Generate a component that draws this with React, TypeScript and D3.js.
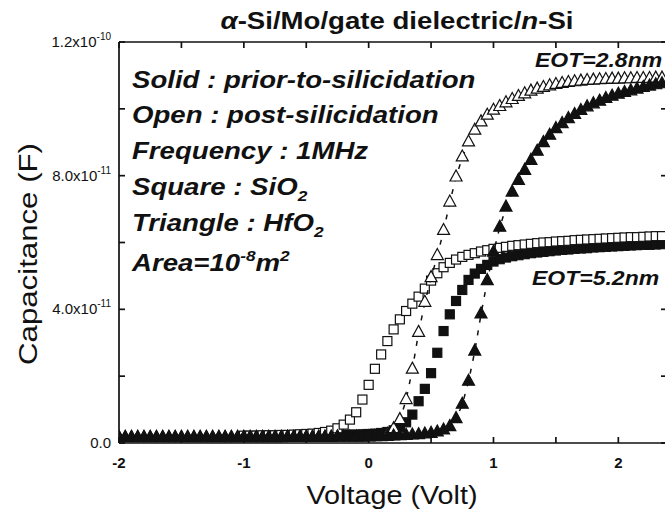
import React from 'react';
import * as d3 from 'd3';

// voltage grid (V)
const lowVolts = [-2, -1.95, -1.9, -1.85, -1.8, -1.75, -1.7, -1.65, -1.6, -1.55,
  -1.5, -1.45, -1.4, -1.35, -1.3, -1.25, -1.2, -1.15, -1.1, -1.05];
const squareVolts = [-1, -0.95, -0.9, -0.85, -0.8, -0.75, -0.7, -0.65, -0.6, -0.55,
  -0.5, -0.45, -0.4, -0.35, -0.3, -0.25, -0.2, -0.15, -0.1, -0.05,
  0, 0.05, 0.1, 0.15, 0.2, 0.25, 0.3, 0.35, 0.4, 0.45,
  0.5, 0.55, 0.6, 0.65, 0.7, 0.75, 0.8, 0.85, 0.9, 0.95,
  1, 1.05, 1.1, 1.15, 1.2, 1.25, 1.3, 1.35, 1.4, 1.45,
  1.5, 1.55, 1.6, 1.65, 1.7, 1.75, 1.8, 1.85, 1.9, 1.95,
  2, 2.05, 2.1, 2.15, 2.2, 2.25, 2.3, 2.35];
const triangleVolts = [...lowVolts, ...squareVolts];

// capacitance, in units of 1e-11 F
const solidSquare = [0.20, 0.20, 0.20, 0.20, 0.21, 0.21, 0.21, 0.21, 0.22, 0.22,
  0.22, 0.22, 0.23, 0.23, 0.23, 0.24, 0.24, 0.25, 0.25, 0.26,
  0.27, 0.28, 0.30, 0.33, 0.38, 0.47, 0.62, 0.85, 1.25, 1.62,
  2.09, 2.70, 3.35, 3.85, 4.25, 4.58, 4.88, 5.07, 5.21, 5.33,
  5.43, 5.50, 5.55, 5.59, 5.62, 5.65, 5.68, 5.70, 5.72, 5.74,
  5.76, 5.78, 5.79, 5.81, 5.82, 5.83, 5.85, 5.86, 5.87, 5.88,
  5.89, 5.90, 5.91, 5.92, 5.93, 5.93, 5.94, 5.95];
const openSquare = [0.22, 0.22, 0.22, 0.23, 0.23, 0.23, 0.24, 0.24, 0.25, 0.26,
  0.27, 0.28, 0.30, 0.33, 0.37, 0.44, 0.55, 0.70, 0.92, 1.30,
  1.74, 2.22, 2.65, 3.05, 3.40, 3.70, 3.95, 4.17, 4.38, 4.62,
  4.86, 5.08, 5.26, 5.39, 5.49, 5.57, 5.63, 5.68, 5.73, 5.77,
  5.81, 5.84, 5.87, 5.90, 5.92, 5.94, 5.96, 5.98, 6.00, 6.01,
  6.03, 6.04, 6.05, 6.07, 6.08, 6.09, 6.10, 6.11, 6.12, 6.13,
  6.14, 6.15, 6.16, 6.16, 6.17, 6.18, 6.19, 6.19];
const solidTriangle = [0.15, 0.15, 0.15, 0.15, 0.15, 0.15, 0.15, 0.15, 0.15, 0.15,
  0.15, 0.15, 0.15, 0.15, 0.15, 0.15, 0.15, 0.15, 0.15, 0.15,
  0.15, 0.15, 0.15, 0.15, 0.15, 0.15, 0.15, 0.16, 0.16, 0.16,
  0.16, 0.16, 0.16, 0.16, 0.16, 0.17, 0.17, 0.17, 0.17, 0.17,
  0.17, 0.18, 0.18, 0.19, 0.20, 0.21, 0.22, 0.23, 0.24, 0.26,
  0.28, 0.32, 0.38, 0.48, 0.72, 1.15, 1.84, 2.74, 3.85, 4.85,
  5.70, 6.45, 7.05, 7.50, 7.85, 8.15, 8.45, 8.72, 8.98, 9.20,
  9.40, 9.55, 9.70, 9.82, 9.94, 10.05, 10.14, 10.22, 10.30, 10.37,
  10.43, 10.48, 10.53, 10.58, 10.63, 10.67, 10.71, 10.74];
const openTriangle = [0.16, 0.16, 0.16, 0.16, 0.16, 0.16, 0.16, 0.16, 0.16, 0.16,
  0.16, 0.16, 0.16, 0.16, 0.16, 0.16, 0.16, 0.16, 0.16, 0.16,
  0.16, 0.16, 0.16, 0.16, 0.16, 0.16, 0.16, 0.16, 0.16, 0.16,
  0.16, 0.16, 0.16, 0.16, 0.16, 0.17, 0.17, 0.17, 0.17, 0.17,
  0.18, 0.19, 0.21, 0.25, 0.42, 0.69, 1.29, 2.20, 3.30, 4.20,
  4.94, 5.60, 6.35, 7.20, 7.95, 8.55, 9.00, 9.35, 9.60, 9.80,
  9.95, 10.06, 10.17, 10.27, 10.36, 10.44, 10.52, 10.58, 10.63, 10.68,
  10.72, 10.75, 10.78, 10.80, 10.82, 10.84, 10.85, 10.86, 10.87, 10.88,
  10.88, 10.89, 10.89, 10.90, 10.90, 10.90, 10.91, 10.91];

const xTicks = [-2, -1.5, -1, -0.5, 0, 0.5, 1, 1.5, 2];
const xLabels = [-2, -1, 0, 1, 2];
const yTicks = [0, 2, 4, 6, 8, 10, 12];
const yLabels = [
  {v: 0, main: '0.0', exp: ''},
  {v: 4, main: '4.0x10', exp: '-11'},
  {v: 8, main: '8.0x10', exp: '-11'},
  {v: 12, main: '1.2x10', exp: '-10'},
];

const W = 665, H = 513;
const FONT = "'Liberation Sans', Arial, Helvetica, sans-serif";
const SX = 1.15;

const x = d3.scaleLinear().domain([-2, 2.39]).range([119, 667]);
const y = d3.scaleLinear().domain([0, 12]).range([443, 42]);

function triPath(cx: number, cy: number) {
  const hw = 6, h = 11;
  return `M${cx},${cy - h * 2 / 3}L${cx + hw},${cy + h / 3}L${cx - hw},${cy + h / 3}Z`;
}

function Squares({vals, fill}: {vals: number[], fill: string}) {
  const s = 9;
  return <g>
    {vals.map((c, i) => <rect key={i} x={x(squareVolts[i]) - s / 2} y={y(c) - s / 2} width={s} height={s}
      fill={fill} stroke="#111" strokeWidth={1.2} />)}
  </g>;
}

function Triangles({vals, fill}: {vals: number[], fill: string}) {
  const line = d3.line<number>().x((c, i) => x(triangleVolts[i])).y(c => y(c));
  return <g>
    <path d={line(vals) || ''} fill="none" stroke="#111" strokeWidth={1.5} strokeDasharray="5 8" />
    {vals.map((c, i) => <path key={i} d={triPath(x(triangleVolts[i]), y(c))}
      fill={fill} stroke="#111" strokeWidth={1.2} />)}
  </g>;
}

function Stretched({tx, ty, size, anchor = 'start', children}: any) {
  return <g transform={`translate(${tx},${ty}) scale(${SX},1)`}>
    <text x={0} y={0} fontSize={size} fontWeight="bold" fontStyle="italic" textAnchor={anchor}
      fontFamily={FONT} fill="#111">{children}</text>
  </g>;
}

export default function App() {
  const legendY = [88, 123, 159, 195, 231, 271];
  return (
    <svg width={W} height={H} style={{position: 'absolute', left: 0, top: 0, background: '#fff'}}>
      <defs>
        <clipPath id="plotClip">
          <rect x={119} y={42} width={560} height={401} />
        </clipPath>
      </defs>

      {/* title */}
      <g transform={`translate(397,29) scale(${SX},1)`}>
        <text textAnchor="middle" fontSize={24} fontWeight="bold" fontFamily={FONT} fill="#111">
          <tspan fontStyle="italic">α</tspan>-Si/Mo/gate dielectric/<tspan fontStyle="italic">n</tspan>-Si
        </text>
      </g>

      {/* data */}
      <g clipPath="url(#plotClip)">
        <Squares vals={solidSquare} fill="#111" />
        <Squares vals={openSquare} fill="#fff" />
        <Triangles vals={openTriangle} fill="#fff" />
        <Triangles vals={solidTriangle} fill="#111" />
      </g>

      {/* frame */}
      <g stroke="#111" strokeWidth={1.7} fill="none">
        <line x1={119} x2={667} y1={y(0)} y2={y(0)} />
        <line x1={119} x2={667} y1={y(12)} y2={y(12)} />
        <line x1={119} x2={119} y1={y(0)} y2={y(12)} />
        <line x1={667} x2={667} y1={y(0)} y2={y(12)} />
        {xTicks.map(t => <g key={'xt' + t}>
          <line x1={x(t)} x2={x(t)} y1={y(0)} y2={y(0) - 6} />
          <line x1={x(t)} x2={x(t)} y1={y(12)} y2={y(12) + 6} />
        </g>)}
        {yTicks.map(t => <g key={'yt' + t}>
          <line x1={119} x2={125} y1={y(t)} y2={y(t)} />
          <line x1={667} x2={661} y1={y(t)} y2={y(t)} />
        </g>)}
      </g>

      {/* tick labels */}
      {xLabels.map(t => <text key={'xl' + t} x={x(t)} y={468} textAnchor="middle" fontSize={15}
        fontWeight="bold" fontFamily={FONT} fill="#111">{t}</text>)}
      {yLabels.map(l => <text key={'yl' + l.v} x={111} y={y(l.v) + 5} textAnchor="end" fontSize={15}
        fontFamily={FONT} fill="#111">
        {l.main}{l.exp && <tspan fontSize={10} dy={-7}>{l.exp}</tspan>}
      </text>)}

      {/* axis titles */}
      <g transform={`translate(392,504) scale(${SX},1)`}>
        <text textAnchor="middle" fontSize={25} fontFamily={FONT} fill="#111">Voltage (Volt)</text>
      </g>
      <text transform="translate(37,254) rotate(-90)" textAnchor="middle" fontSize={26}
        textLength={222} lengthAdjust="spacingAndGlyphs" fontFamily={FONT} fill="#111">Capacitance (F)</text>

      {/* annotations */}
      <Stretched tx={132} ty={legendY[0]} size={24}>Solid : prior-to-silicidation</Stretched>
      <Stretched tx={132} ty={legendY[1]} size={24}>Open : post-silicidation</Stretched>
      <Stretched tx={132} ty={legendY[2]} size={24}>Frequency : 1MHz</Stretched>
      <Stretched tx={132} ty={legendY[3]} size={24}>
        Square : SiO<tspan fontSize={15} dy={6}>2</tspan>
      </Stretched>
      <Stretched tx={132} ty={legendY[4]} size={24}>
        Triangle : HfO<tspan fontSize={15} dy={6}>2</tspan>
      </Stretched>
      <Stretched tx={132} ty={legendY[5]} size={24}>
        Area=10<tspan fontSize={15} dy={-10}>-8</tspan><tspan dy={10}>m</tspan><tspan fontSize={15} dy={-10}>2</tspan>
      </Stretched>
      <Stretched tx={535} ty={67} size={20}>EOT=2.8nm</Stretched>
      <Stretched tx={532} ty={285} size={20}>EOT=5.2nm</Stretched>
    </svg>
  );
}
